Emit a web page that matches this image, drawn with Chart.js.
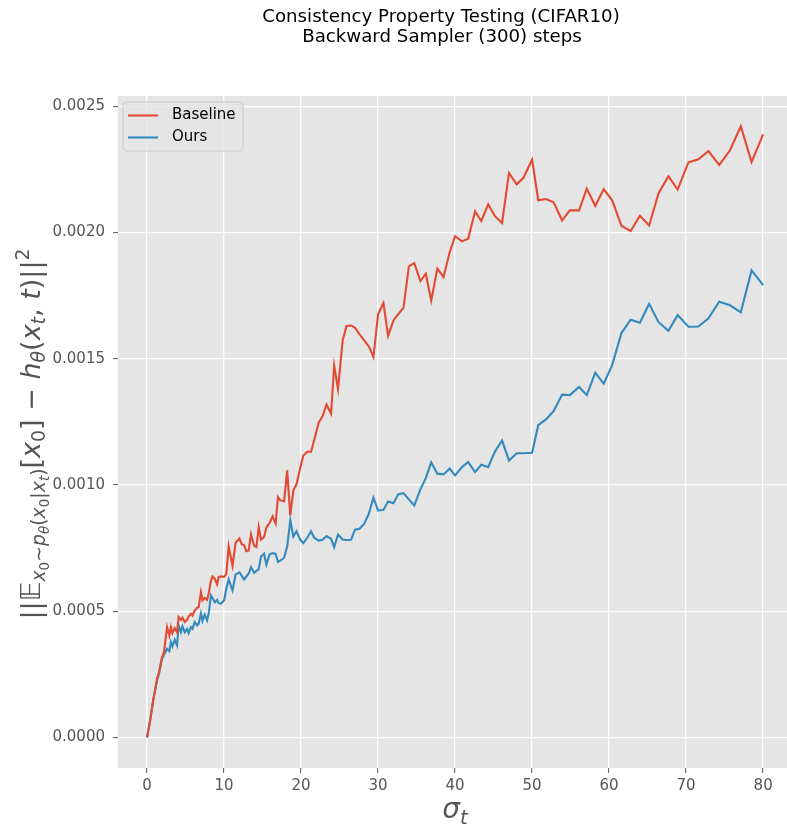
<!DOCTYPE html>
<html>
<head>
<meta charset="utf-8">
<script src="https://cdn.jsdelivr.net/npm/chart.js@4.4.1/dist/chart.umd.min.js"></script>
<style>
  html, body { margin: 0; padding: 0; background: #fff; }
  #wrap { width: 787px; height: 824px; }
</style>
</head>
<body>
<div id="wrap"><canvas id="chart" width="787" height="824"></canvas></div>
<script>
// sigma_t values (x axis)
const sigmas = [0, 0.4, 0.8, 1.3, 1.6, 1.9, 2.2, 2.6, 2.9, 3.1,
  3.3, 3.6, 3.9, 4.1, 4.4, 4.6, 4.9, 5.2, 5.4, 5.7,
  5.9, 6.2, 6.5, 6.7, 7.0, 7.2, 7.5, 7.8, 8.0, 8.3,
  8.5, 8.8, 9.1, 9.3, 9.6, 10.0, 10.3, 10.6, 11.1, 11.5,
  12.0, 12.3, 12.6, 12.9, 13.2, 13.5, 13.9, 14.2, 14.5, 14.8,
  15.2, 15.5, 15.9, 16.3, 16.7, 17.0, 17.3, 17.8, 18.2, 18.6,
  19.0, 19.4, 19.9, 20.3, 20.8, 21.3, 21.7, 22.3, 22.8, 23.3,
  23.9, 24.3, 24.8, 25.4, 25.9, 26.5, 27.0, 27.6, 28.2, 28.8,
  29.4, 30.0, 30.7, 31.3, 32.0, 32.6, 33.3, 34.0, 34.7, 35.5,
  36.2, 36.9, 37.7, 38.5, 39.3, 40.0, 40.9, 41.7, 42.6, 43.4,
  44.3, 45.2, 46.1, 47.0, 48.0, 48.9, 50.0, 50.8, 51.8, 52.8,
  53.9, 54.9, 56.1, 57.1, 58.2, 59.3, 60.4, 61.6, 62.8, 64.0,
  65.2, 66.4, 67.7, 68.9, 70.3, 71.6, 72.9, 74.3, 75.7, 77.1,
  78.5, 80.0];

// errors, in units of 1e-3
const baseline = [0, 0.067, 0.147, 0.233, 0.265, 0.312, 0.338, 0.437, 0.404, 0.437,
  0.413, 0.433, 0.417, 0.477, 0.466, 0.474, 0.457, 0.466, 0.479, 0.490,
  0.483, 0.503, 0.514, 0.516, 0.576, 0.543, 0.553, 0.545, 0.569, 0.622,
  0.638, 0.628, 0.606, 0.635, 0.638, 0.636, 0.648, 0.757, 0.680, 0.771,
  0.788, 0.765, 0.762, 0.738, 0.741, 0.804, 0.759, 0.754, 0.833, 0.783,
  0.794, 0.833, 0.849, 0.876, 0.847, 0.952, 0.939, 0.936, 1.058, 0.880,
  0.979, 1.002, 1.068, 1.117, 1.132, 1.132, 1.177, 1.248, 1.272, 1.319,
  1.283, 1.473, 1.380, 1.573, 1.630, 1.632, 1.623, 1.597, 1.573, 1.549,
  1.507, 1.676, 1.721, 1.591, 1.652, 1.676, 1.702, 1.866, 1.879, 1.808,
  1.837, 1.731, 1.857, 1.824, 1.922, 1.986, 1.965, 1.976, 2.084, 2.046,
  2.112, 2.064, 2.038, 2.236, 2.191, 2.218, 2.289, 2.128, 2.133, 2.120,
  2.048, 2.088, 2.088, 2.174, 2.106, 2.172, 2.128, 2.027, 2.006, 2.067,
  2.028, 2.154, 2.223, 2.170, 2.278, 2.290, 2.323, 2.268, 2.326, 2.421,
  2.279, 2.389];

const ours = [0, 0.067, 0.147, 0.225, 0.258, 0.306, 0.328, 0.351, 0.342, 0.378,
  0.361, 0.387, 0.365, 0.444, 0.417, 0.440, 0.417, 0.430, 0.413, 0.437,
  0.430, 0.457, 0.444, 0.450, 0.492, 0.461, 0.487, 0.464, 0.490, 0.563,
  0.553, 0.536, 0.545, 0.532, 0.530, 0.543, 0.590, 0.626, 0.582, 0.646,
  0.654, 0.640, 0.625, 0.638, 0.650, 0.675, 0.652, 0.660, 0.666, 0.717,
  0.728, 0.684, 0.725, 0.730, 0.727, 0.695, 0.700, 0.712, 0.757, 0.860,
  0.796, 0.817, 0.783, 0.770, 0.791, 0.817, 0.791, 0.780, 0.783, 0.798,
  0.787, 0.754, 0.804, 0.784, 0.782, 0.783, 0.823, 0.827, 0.847, 0.886,
  0.950, 0.899, 0.902, 0.935, 0.928, 0.963, 0.968, 0.943, 0.919, 0.983,
  1.027, 1.090, 1.045, 1.042, 1.065, 1.038, 1.071, 1.091, 1.051, 1.080,
  1.071, 1.134, 1.177, 1.097, 1.126, 1.126, 1.128, 1.237, 1.260, 1.293,
  1.358, 1.356, 1.388, 1.356, 1.445, 1.401, 1.475, 1.602, 1.655, 1.643,
  1.718, 1.646, 1.611, 1.673, 1.627, 1.628, 1.660, 1.726, 1.712, 1.684,
  1.850, 1.792];

const seriesNames = ['Baseline', 'Ours'];
const seriesColors = ['#E24A33', '#348ABD'];
const titleLines = ['Consistency Property Testing (CIFAR10)', 'Backward Sampler (300) steps'];

const FONT = '"DejaVu Sans", sans-serif';

function toPoints(ys) {
  return ys.map((y, i) => ({ x: sigmas[i], y }));
}

// draws a list of [text, level, italic] runs; level 0 main, 1 sub, 2 subsub, -1 sup
function drawMath(ctx, runs, size, x, y) {
  const sizes = { '-1': size * 0.7, 0: size, 1: size * 0.7, 2: size * 0.5 };
  const shift = { '-1': -size * 0.42, 0: 0, 1: size * 0.2, 2: size * 0.32 };
  let total = 0;
  runs.forEach(r => {
    ctx.font = (r[2] ? 'italic ' : '') + sizes[r[1]] + 'px ' + FONT;
    r.w = ctx.measureText(r[0]).width;
    total += r.w;
  });
  let cx = x - total / 2;
  runs.forEach(r => {
    ctx.font = (r[2] ? 'italic ' : '') + sizes[r[1]] + 'px ' + FONT;
    ctx.fillText(r[0], cx, y + shift[r[1]]);
    cx += r.w;
  });
}

const decor = {
  id: 'decor',
  beforeDraw(chart) {
    const { ctx, chartArea: a } = chart;
    ctx.save();
    ctx.fillStyle = '#fff';
    ctx.fillRect(0, 0, chart.width, chart.height);
    ctx.fillStyle = '#E5E5E5';
    ctx.fillRect(a.left, a.top, a.right - a.left, a.bottom - a.top);
    ctx.restore();
  },
  afterDraw(chart) {
    const { ctx } = chart;
    ctx.save();
    // title
    ctx.fillStyle = '#000';
    ctx.textAlign = 'center';
    ctx.textBaseline = 'middle';
    ctx.font = '18.2px ' + FONT;
    ctx.fillText(titleLines[0], 441, 17);
    ctx.fillText(titleLines[1], 442, 37);

    // legend
    const lx = 123, ly = 102, lw = 120, lh = 49;
    ctx.beginPath();
    ctx.roundRect(lx, ly, lw, lh, 4);
    ctx.fillStyle = 'rgba(229,229,229,0.8)';
    ctx.fill();
    ctx.strokeStyle = '#CCCCCC';
    ctx.lineWidth = 1;
    ctx.stroke();
    ctx.textAlign = 'left';
    ctx.font = '15px ' + FONT;
    seriesNames.forEach((name, i) => {
      const yy = ly + 13.5 + i * 22;
      ctx.strokeStyle = seriesColors[i];
      ctx.lineWidth = 2.1;
      ctx.beginPath();
      ctx.moveTo(lx + 5, yy);
      ctx.lineTo(lx + 35, yy);
      ctx.stroke();
      ctx.fillStyle = '#000';
      ctx.fillText(name, lx + 49, yy);
    });

    // x label
    ctx.fillStyle = '#555555';
    ctx.textAlign = 'left';
    ctx.textBaseline = 'alphabetic';
    drawMath(ctx, [['σ', 0, true], ['t', 1, true]], 28, 455, 818);

    // y label
    ctx.translate(40, 434);
    ctx.rotate(-Math.PI / 2);
    drawMath(ctx, [
      ['||𝔼', 0, false],
      ['x', 1, true], ['0', 2, false], ['∼', 1, false], ['p', 1, true], ['θ', 2, true],
      ['(', 1, false], ['x', 1, true], ['0', 2, false], ['|', 1, false], ['x', 1, true],
      ['t', 2, true], [')', 1, false],
      ['[', 0, false], ['x', 0, true], ['0', 1, false], [']', 0, false], [' − ', 0, false],
      ['h', 0, true], ['θ', 1, true], ['(', 0, false], ['x', 0, true], ['t', 1, true],
      [', ', 0, false], ['t', 0, true], [')||', 0, false], ['2', -1, false]
    ], 27, 0, 0);
    ctx.restore();
  }
};

new Chart(document.getElementById('chart').getContext('2d'), {
  type: 'line',
  data: {
    datasets: [
      { label: seriesNames[0], data: toPoints(baseline), borderColor: seriesColors[0], borderWidth: 2.1, pointRadius: 0, tension: 0 },
      { label: seriesNames[1], data: toPoints(ours), borderColor: seriesColors[1], borderWidth: 2.1, pointRadius: 0, tension: 0 }
    ]
  },
  options: {
    responsive: false,
    animation: false,
    devicePixelRatio: 1,
    layout: { padding: { top: 96, right: 0, left: 0, bottom: 0 } },
    plugins: { legend: { display: false }, title: { display: false }, tooltip: { enabled: false } },
    scales: {
      x: {
        type: 'linear',
        min: -3.77,
        max: 83.1,
        afterFit(s) { s.height = 56; },
        border: { display: false },
        grid: { color: '#ffffff', lineWidth: 1.3, tickColor: '#555555', tickLength: 5, tickWidth: 1 },
        ticks: { stepSize: 10, includeBounds: false, padding: 4, color: '#555555', font: { family: FONT, size: 15 },
          maxRotation: 0, callback: v => String(v) }
      },
      y: {
        type: 'linear',
        min: -0.121,
        max: 2.541,
        afterFit(s) { s.width = 118; },
        border: { display: false },
        grid: { color: '#ffffff', lineWidth: 1.3, tickColor: '#555555', tickLength: 5, tickWidth: 1 },
        ticks: { stepSize: 0.5, includeBounds: false, padding: 8, color: '#555555', font: { family: FONT, size: 15 },
          callback: v => (v * 1e-3).toFixed(4) }
      }
    }
  },
  plugins: [decor]
});
</script>
</body>
</html>
